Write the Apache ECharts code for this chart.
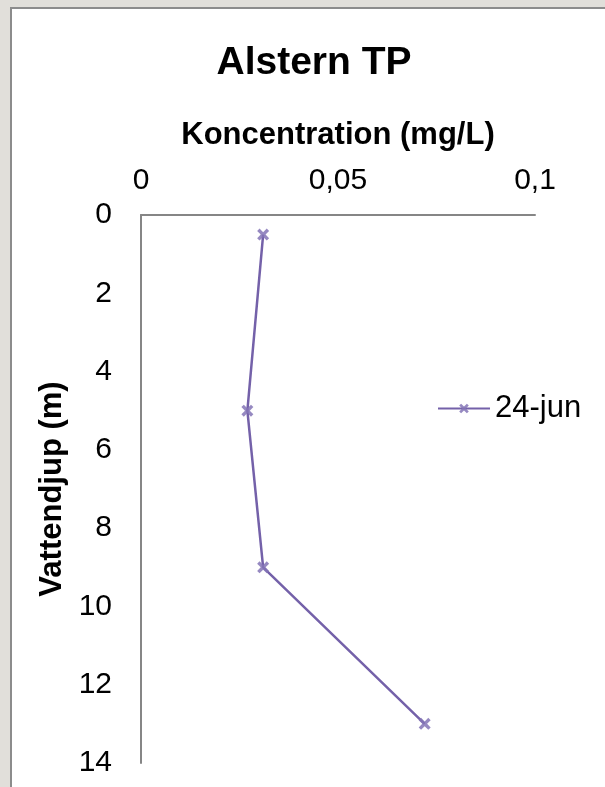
<!DOCTYPE html>
<html>
<head>
<meta charset="utf-8">
<script src="https://cdn.jsdelivr.net/npm/echarts@6/dist/echarts.min.js"></script>
<style>
  html, body { margin: 0; padding: 0; background: #e1dfda; }
  #frame { position: absolute; left: 10px; top: 7px; width: 593px; height: 778px; background: #ffffff; border-left: 2px solid #8c8c8c; border-top: 2px solid #8c8c8c; }
  #chart { position: absolute; left: 0; top: 0; width: 605px; height: 787px; }
</style>
</head>
<body>
<div id="frame"></div>
<div id="chart"></div>
<script>
const titleText = 'Alstern TP';
const xAxisName = 'Koncentration (mg/L)';
const yAxisName = 'Vattendjup (m)';
const seriesName = '24-jun';
const concentration = [0.031, 0.027, 0.031, 0.072];
const depth = [0.5, 5, 9, 13];
const xTicks = [0, 0.05, 0.1];
const yTicks = [0, 2, 4, 6, 8, 10, 12, 14];

const pairs = concentration.map((c, i) => [c, depth[i]]);
const lineColor = '#7461a9';
const xMark = 'path://M0,2L2,0L5,3L8,0L10,2L7,5L10,8L8,10L5,7L2,10L0,8L3,5Z';
const fontFamily = '"Liberation Sans", Arial, sans-serif';

const chart = echarts.init(document.getElementById('chart'), null, { renderer: 'canvas' });
chart.setOption({
  backgroundColor: 'transparent',
  animation: false,
  title: {
    text: titleText,
    left: 309,
    textAlign: 'center',
    top: 39,
    textStyle: { fontFamily, fontSize: 39, fontWeight: 'bold', color: '#000' }
  },
  legend: {
    data: [seriesName],
    left: 432,
    top: 388,
    itemWidth: 52,
    itemHeight: 12,
    textStyle: { fontFamily, fontSize: 31, color: '#000' }
  },
  grid: { left: 141, top: 215, right: 70, bottom: 24, containLabel: false },
  xAxis: {
    type: 'value',
    position: 'top',
    min: xTicks[0],
    max: xTicks[xTicks.length - 1],
    interval: xTicks[1] - xTicks[0],
    name: xAxisName,
    nameLocation: 'middle',
    nameGap: 64,
    nameTextStyle: { fontFamily, fontSize: 31, fontWeight: 'bold', color: '#000' },
    axisLine: { show: true, lineStyle: { color: '#868686', width: 2 } },
    axisTick: { show: false },
    splitLine: { show: false },
    axisLabel: {
      fontFamily, fontSize: 30, color: '#000', margin: 19,
      formatter: v => String(v).replace('.', ',')
    }
  },
  yAxis: {
    type: 'value',
    inverse: true,
    min: yTicks[0],
    max: yTicks[yTicks.length - 1],
    interval: yTicks[1] - yTicks[0],
    name: yAxisName,
    nameLocation: 'middle',
    nameGap: 65,
    nameTextStyle: { fontFamily, fontSize: 31, fontWeight: 'bold', color: '#000' },
    axisLine: { show: true, lineStyle: { color: '#868686', width: 2 } },
    axisTick: { show: false },
    splitLine: { show: false },
    axisLabel: { fontFamily, fontSize: 30, color: '#000', margin: 29 }
  },
  series: [{
    name: seriesName,
    type: 'line',
    data: pairs,
    symbol: xMark,
    symbolSize: 12,
    lineStyle: { color: lineColor, width: 2.5 },
    itemStyle: { color: '#8474b6', opacity: 0.85 }
  }]
});
</script>
</body>
</html>
